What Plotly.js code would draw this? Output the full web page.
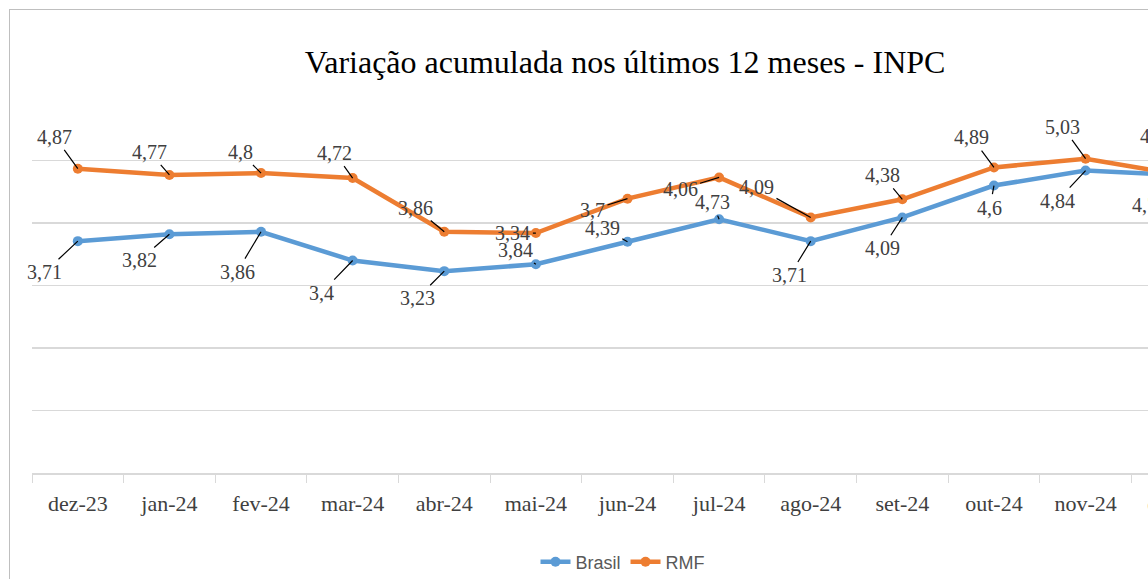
<!DOCTYPE html>
<html>
<head>
<meta charset="utf-8">
<script src="https://cdn.plot.ly/plotly-3.0.1.min.js"></script>
<style>
html,body{margin:0;padding:0;overflow:hidden;background:#fff;width:1148px;height:579px;}
#frame{position:absolute;left:9px;top:9px;width:1300px;height:700px;border:1px solid #bfbfbf;box-sizing:border-box;}
#chart{position:absolute;left:0;top:0;width:1240px;height:579px;}
</style>
</head>
<body>
<div id="frame"></div>
<div id="chart"></div>
<script>
// ---- data ----
const categories = ['dez-23','jan-24','fev-24','mar-24','abr-24','mai-24','jun-24','jul-24','ago-24','set-24','out-24','nov-24','dez-24'];
const brasil = [3.71, 3.82, 3.86, 3.40, 3.23, 3.34, 3.70, 4.06, 3.71, 4.09, 4.60, 4.84, 4.77];
const rmf    = [4.87, 4.77, 4.80, 4.72, 3.86, 3.84, 4.39, 4.73, 4.09, 4.38, 4.89, 5.03, 4.78];
// data labels as they appear on the reference chart
const brasilLabels = ['3,71','3,82','3,86','3,4','3,23','3,84','4,39','4,73','3,71','4,09','4,6','4,84','4,77'];
const rmfLabels    = ['4,87','4,77','4,8','4,72','3,86','3,34','3,7','4,06','4,09','4,38','4,89','5,03','4,78'];

// label offsets (pixels, style only)
const brasilOff = [[-33,31],[-30,26],[-24,40],[-31,32],[-27,27],[-20,-14],[-25,-14],[-7,-17],[-21,34],[-20,31],[-4,22],[-28,30],[-28,30]];
const rmfOff    = [[-23,-32],[-20,-23],[-21,-21],[-18,-25],[-29,-24],[-23,0],[-35,11],[-39,12],[-54,-30],[-20,-24],[-22,-30],[-23,-32],[-20,-38]];

const BLUE = '#5B9BD5', ORANGE = '#ED7D31';
const SERIF = 'Liberation Serif, Times New Roman, serif';

const traces = [
  {x: categories, y: brasil, name: 'Brasil', type: 'scatter', mode: 'lines+markers',
   line: {color: BLUE, width: 4.5}, marker: {color: BLUE, size: 10}},
  {x: categories, y: rmf, name: 'RMF', type: 'scatter', mode: 'lines+markers',
   line: {color: ORANGE, width: 4.5}, marker: {color: ORANGE, size: 10}}
];

const annotations = [];
function addLabels(vals, labels, offs) {
  vals.forEach((v, i) => {
    annotations.push({
      x: categories[i], y: v, text: labels[i],
      ax: offs[i][0], ay: offs[i][1],
      showarrow: true, arrowhead: 0, arrowwidth: 1.2, arrowcolor: '#000',
      standoff: 0, startstandoff: 2,
      font: {family: SERIF, size: 20, color: '#404040'},
      borderpad: 0
    });
  });
}
addLabels(brasil, brasilLabels, brasilOff);
addLabels(rmf, rmfLabels, rmfOff);

const layout = {
  width: 1240, height: 579,
  margin: {l: 32, r: 17, t: 98, b: 106},
  paper_bgcolor: 'rgba(0,0,0,0)', plot_bgcolor: 'rgba(0,0,0,0)',
  title: {
    text: 'Variação acumulada nos últimos 12 meses - INPC',
    font: {family: SERIF, size: 32, color: '#000'},
    xref: 'container', x: 625/1240, xanchor: 'center',
    yref: 'container', y: 1 - 62/579, yanchor: 'middle'
  },
  xaxis: {
    type: 'category', range: [-0.5, 12.5],
    showline: true, linecolor: '#d9d9d9', linewidth: 1.5,
    ticks: 'outside', tickson: 'boundaries', ticklen: 8, tickcolor: '#d9d9d9', tickwidth: 1,
    showgrid: false, ticklabelstandoff: 10,
    tickfont: {family: SERIF, size: 22, color: '#404040'},
    fixedrange: true
  },
  yaxis: {
    range: [0, 6.001], dtick: 1, showticklabels: false, ticks: '',
    showgrid: true, gridcolor: '#d9d9d9', gridwidth: 1.5,
    zeroline: false, showline: false, fixedrange: true
  },
  showlegend: true,
  legend: {
    orientation: 'h', x: (623-32)/1191, xanchor: 'center',
    yref: 'container', y: 1 - 562/579, yanchor: 'middle',
    font: {family: 'Liberation Sans, Arial, sans-serif', size: 18, color: '#595959'},
    bgcolor: 'rgba(0,0,0,0)'
  },
  annotations: annotations
};

Plotly.newPlot('chart', traces, layout, {displayModeBar: false, staticPlot: true});
</script>
</body>
</html>
